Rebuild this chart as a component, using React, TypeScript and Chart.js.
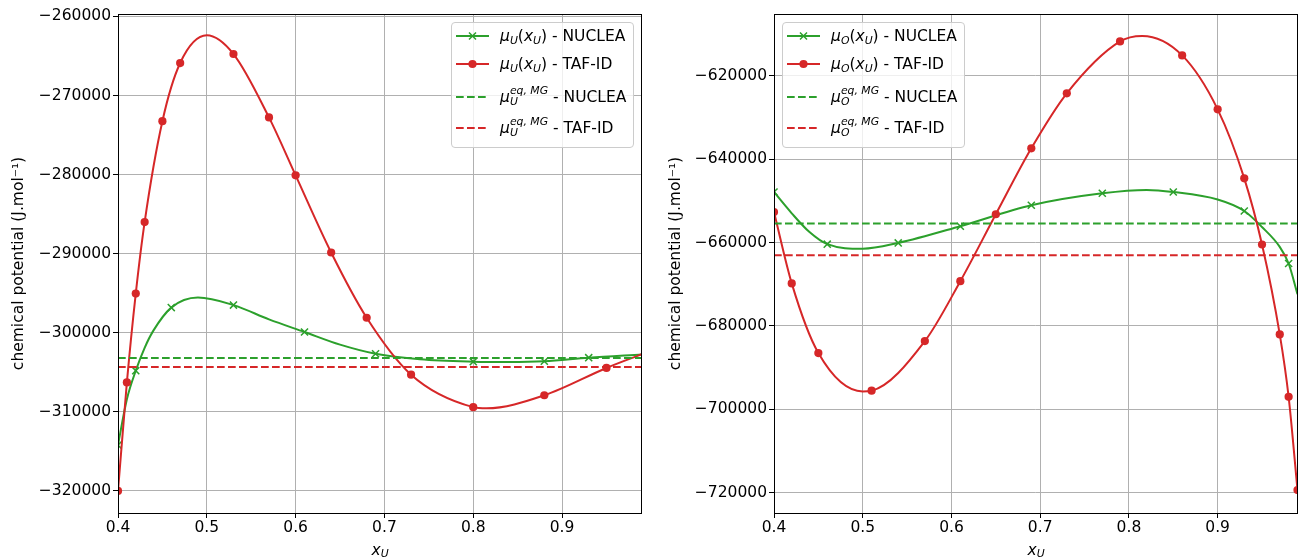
import React, { useEffect, useRef } from "react";
import { Chart, registerables } from "chart.js";

Chart.register(...registerables);

// ---------- data ----------
const X_MIN = 0.4;
const X_MAX = 0.99;
const xTicks = [0.4, 0.5, 0.6, 0.7, 0.8, 0.9];

// Left panel: mu_U(x_U)
const uNucleaX = [0.40, 0.41, 0.42, 0.43, 0.44, 0.46, 0.49, 0.53, 0.57, 0.61, 0.65, 0.69, 0.74, 0.80, 0.84, 0.88, 0.93, 0.99];
const uNucleaY = [-314200, -308400, -304790, -301900, -299700, -296820, -295550, -296500, -298300, -299900, -301500, -302650, -303350, -303650, -303700, -303600, -303150, -302750];
const uNucleaMarks = [0.40, 0.42, 0.46, 0.53, 0.61, 0.69, 0.80, 0.88, 0.93];

const uTafX = [0.40, 0.41, 0.42, 0.43, 0.45, 0.47, 0.50, 0.53, 0.57, 0.60, 0.64, 0.68, 0.73, 0.80, 0.815, 0.88, 0.95, 0.99];
const uTafY = [-320000, -306280, -295040, -286000, -273250, -265900, -262400, -264760, -272770, -280100, -289850, -298100, -305300, -309400, -309550, -307900, -304450, -302700];
const uTafMarks = [0.40, 0.41, 0.42, 0.43, 0.45, 0.47, 0.53, 0.57, 0.60, 0.64, 0.68, 0.73, 0.80, 0.88, 0.95];

const uEqNuclea = -303180;
const uEqTaf = -304320;
const uYTicks = [-320000, -310000, -300000, -290000, -280000, -270000, -260000];
const uYMin = -322785;
const uYMax = -259700;

// Right panel: mu_O(x_U)
const oNucleaX = [0.40, 0.42, 0.44, 0.46, 0.50, 0.54, 0.61, 0.69, 0.77, 0.82, 0.85, 0.90, 0.93, 0.95, 0.97, 0.98, 0.99];
const oNucleaY = [-647900, -653000, -657500, -660400, -661500, -660100, -656100, -651070, -648200, -647400, -647900, -649700, -652450, -656300, -661050, -665030, -672400];
const oNucleaMarks = [0.40, 0.46, 0.54, 0.61, 0.69, 0.77, 0.85, 0.93, 0.98];

const oTafX = [0.40, 0.42, 0.45, 0.50, 0.51, 0.57, 0.61, 0.65, 0.69, 0.73, 0.79, 0.815, 0.86, 0.90, 0.93, 0.95, 0.97, 0.98, 0.99];
const oTafY = [-652700, -669800, -686500, -695700, -695530, -683640, -669270, -653230, -637430, -624250, -611800, -610500, -615150, -628080, -644620, -660480, -682030, -697000, -719350];
const oTafMarks = [0.40, 0.42, 0.45, 0.51, 0.57, 0.61, 0.65, 0.69, 0.73, 0.79, 0.86, 0.90, 0.93, 0.95, 0.97, 0.98, 0.99];

const oEqNuclea = -655460;
const oEqTaf = -663030;
const oYTicks = [-720000, -700000, -680000, -660000, -640000, -620000];
const oYMin = -724840;
const oYMax = -605230;

const yTitle = "chemical potential (J.mol\u207B\u00B9)";

// ---------- style ----------
const GREEN = "#2ca02c";
const RED = "#d62728";
const FONT_FAMILY = "'DejaVu Sans', sans-serif";
const FS = 15.5;
const DASH = [7.7, 3.3];

const framePlugin = {
  id: "frame",
  afterDraw(chart: any) {
    const { ctx, chartArea } = chart;
    const l = Math.round(chartArea.left) + 0.5;
    const t = Math.round(chartArea.top) + 0.5;
    const r = Math.round(chartArea.right) - 0.5;
    const b = Math.round(chartArea.bottom) + 0.5;
    ctx.save();
    ctx.strokeStyle = "#000";
    ctx.lineWidth = 1;
    ctx.strokeRect(l, t, r - l, b - t);
    ctx.restore();
  },
};

function curve(xs: number[], ys: number[], marks: number[], color: string, style: string, order: number) {
  const isCross = style === "crossRot";
  return {
    data: xs.map((x, i) => ({ x, y: ys[i] })),
    borderColor: color,
    backgroundColor: color,
    borderWidth: 2,
    cubicInterpolationMode: "monotone",
    pointStyle: style,
    pointRadius: (c: any) => (c.raw && marks.includes(c.raw.x) ? (isCross ? 5 : 4.1) : 0),
    pointBorderColor: color,
    pointBackgroundColor: color,
    pointBorderWidth: isCross ? 1.5 : 0,
    order,
  };
}

function eqLine(v: number, color: string, order: number) {
  return {
    data: [
      { x: X_MIN, y: v },
      { x: X_MAX, y: v },
    ],
    borderColor: color,
    backgroundColor: color,
    borderWidth: 2,
    borderDash: DASH,
    pointRadius: 0,
    order,
  };
}

type PanelProps = {
  left: number;
  width: number;
  chartLeft: number;
  chartRight: number;
  padLeft: number;
  datasets: any[];
  yMin: number;
  yMax: number;
  yTicks: number[];
};

function Panel({ left, width, chartLeft, chartRight, padLeft, datasets, yMin, yMax, yTicks }: PanelProps) {
  const ref = useRef<HTMLCanvasElement | null>(null);
  useEffect(() => {
    if (!ref.current) return;
    const font = { family: FONT_FAMILY, size: FS };
    const grid = { color: "#b0b0b0", lineWidth: 1, tickLength: 5, tickColor: "#000", tickWidth: 1 };
    const chart = new Chart(ref.current, {
      type: "line",
      data: { datasets },
      options: {
        animation: false,
        responsive: false,
        events: [],
        layout: { padding: { left: padLeft, right: width - chartRight, top: 14, bottom: 0 } },
        plugins: { legend: { display: false }, tooltip: { enabled: false } },
        scales: {
          x: {
            type: "linear",
            min: X_MIN,
            max: X_MAX,
            afterFit: (s: any) => {
              s.height = 47;
            },
            afterBuildTicks: (s: any) => {
              s.ticks = xTicks.map((v) => ({ value: v }));
            },
            ticks: {
              font,
              color: "#000",
              padding: 1,
              maxRotation: 0,
              autoSkip: false,
              callback: (v: any) => Number(v).toFixed(1),
            },
            grid,
            border: { display: false },
          },
          y: {
            type: "linear",
            min: yMin,
            max: yMax,
            afterFit: (s: any) => {
              s.width = chartLeft - padLeft;
            },
            afterBuildTicks: (s: any) => {
              s.ticks = yTicks.map((v) => ({ value: v }));
            },
            ticks: {
              font,
              color: "#000",
              padding: 2,
              autoSkip: false,
              callback: (v: any) => (Number(v) < 0 ? "\u2212" + Math.abs(Number(v)) : String(v)),
            },
            title: {
              display: true,
              text: yTitle,
              font,
              color: "#000",
              padding: { top: 9.2, bottom: 0 },
            },
            grid,
            border: { display: false },
          },
        },
      } as any,
      plugins: [framePlugin],
    } as any);
    return () => chart.destroy();
  }, []);
  return (
    <canvas
      ref={ref}
      width={width}
      height={560}
      style={{ position: "absolute", left, top: 0, width, height: 560 }}
    />
  );
}

const italic: React.CSSProperties = { fontStyle: "italic" };
const subStyle: React.CSSProperties = { fontSize: "0.7em", fontStyle: "italic", position: "relative", top: 3 };

function MuSub({ s }: { s: string }) {
  return (
    <>
      <span style={italic}>{"\u03BC"}</span>
      <span style={subStyle}>{s}</span>
    </>
  );
}

function MuEq({ s }: { s: string }) {
  return (
    <>
      <span style={italic}>{"\u03BC"}</span>
      <span
        style={{
          display: "inline-flex",
          flexDirection: "column",
          verticalAlign: "middle",
          fontSize: "0.7em",
          fontStyle: "italic",
          lineHeight: "11px",
          position: "relative",
          top: -1,
        }}
      >
        <span>eq, MG</span>
        <span>{s}</span>
      </span>
    </>
  );
}

function Handle({ color, dashed, marker }: { color: string; dashed?: boolean; marker?: "x" | "o" }) {
  return (
    <svg width={34} height={30} style={{ position: "absolute", left: 4, top: 0 }}>
      <line
        x1={0}
        y1={15}
        x2={33}
        y2={15}
        stroke={color}
        strokeWidth={2}
        strokeDasharray={dashed ? DASH.join(" ") : undefined}
      />
      {marker === "o" && <circle cx={16.5} cy={15} r={4.1} fill={color} />}
      {marker === "x" && (
        <path d="M13 11.5 L20 18.5 M13 18.5 L20 11.5" stroke={color} strokeWidth={1.5} />
      )}
    </svg>
  );
}

function Legend({ left, sym }: { left: number; sym: string }) {
  const rowCenters = [14.3, 42.6, 75.3, 106.3];
  const rows = [
    { h: <Handle color={GREEN} marker="x" />, t: <><MuSub s={sym} />(<span style={italic}>x</span><span style={subStyle}>U</span>) - NUCLEA</> },
    { h: <Handle color={RED} marker="o" />, t: <><MuSub s={sym} />(<span style={italic}>x</span><span style={subStyle}>U</span>) - TAF-ID</> },
    { h: <Handle color={GREEN} dashed />, t: <><MuEq s={sym} /> - NUCLEA</> },
    { h: <Handle color={RED} dashed />, t: <><MuEq s={sym} /> - TAF-ID</> },
  ];
  return (
    <div
      style={{
        position: "absolute",
        left,
        top: 21.7,
        width: 183,
        height: 126,
        boxSizing: "border-box",
        border: "1px solid #cccccc",
        borderRadius: 4,
        background: "rgba(255,255,255,0.8)",
        fontFamily: FONT_FAMILY,
        fontSize: FS,
        color: "#000",
      }}
    >
      {rows.map((r, i) => (
        <div key={i} style={{ position: "absolute", left: 0, top: rowCenters[i] - 15 - 1, height: 30, width: 180 }}>
          {r.h}
          <div style={{ position: "absolute", left: 48, top: 0, height: 30, lineHeight: "30px", whiteSpace: "nowrap" }}>
            {r.t}
          </div>
        </div>
      ))}
    </div>
  );
}

function XTitle({ center }: { center: number }) {
  return (
    <div
      style={{
        position: "absolute",
        left: center,
        top: 540,
        transform: "translateX(-50%)",
        fontFamily: FONT_FAMILY,
        fontSize: FS,
        lineHeight: "20px",
        color: "#000",
        whiteSpace: "nowrap",
      }}
    >
      <span style={italic}>x</span>
      <span style={{ ...subStyle, top: 2 }}>U</span>
    </div>
  );
}

export default function App() {
  const leftSets = [
    curve(uNucleaX, uNucleaY, uNucleaMarks, GREEN, "crossRot", 4),
    curve(uTafX, uTafY, uTafMarks, RED, "circle", 3),
    eqLine(uEqNuclea, GREEN, 2),
    eqLine(uEqTaf, RED, 1),
  ];
  const rightSets = [
    curve(oNucleaX, oNucleaY, oNucleaMarks, GREEN, "crossRot", 4),
    curve(oTafX, oTafY, oTafMarks, RED, "circle", 3),
    eqLine(oEqNuclea, GREEN, 2),
    eqLine(oEqTaf, RED, 1),
  ];
  return (
    <div style={{ position: "absolute", left: 0, top: 0, width: 1304, height: 560, background: "#fff", overflow: "hidden" }}>
      <Panel left={0} width={652} chartLeft={118} chartRight={642} padLeft={0} datasets={leftSets} yMin={uYMin} yMax={uYMax} yTicks={uYTicks} />
      <Panel left={652} width={652} chartLeft={122} chartRight={646} padLeft={5} datasets={rightSets} yMin={oYMin} yMax={oYMax} yTicks={oYTicks} />
      <Legend left={451} sym="U" />
      <Legend left={782} sym="O" />
      <XTitle center={380} />
      <XTitle center={1036} />
    </div>
  );
}
